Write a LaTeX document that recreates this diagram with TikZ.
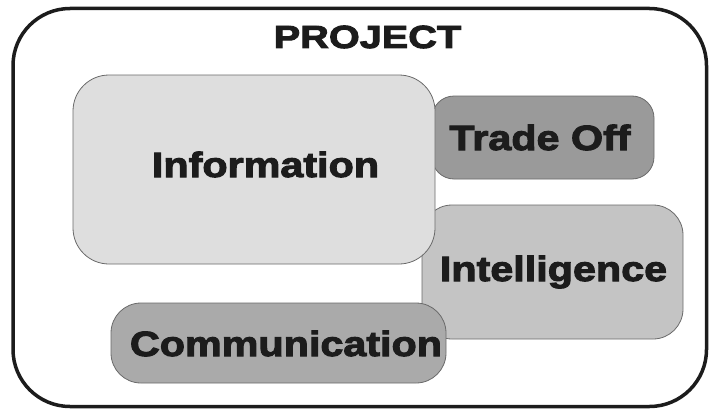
\documentclass[tikz,border=0pt]{standalone}
\usepackage{fontspec}
\newfontfamily\lblfont{Liberation Sans Bold}[FakeStretch=1.18,FakeBold=3]
\newfontfamily\ttlfont{Liberation Sans Bold}[FakeStretch=1.24,FakeBold=3]
\definecolor{txt}{HTML}{1C1C1C}
\definecolor{edge}{HTML}{6A6A6A}
\definecolor{infofill}{HTML}{DEDEDE}
\definecolor{tradefill}{HTML}{9A9A9A}
\definecolor{intelfill}{HTML}{C4C4C4}
\definecolor{commfill}{HTML}{AAAAAA}
\tikzset{
  panel/.style={draw=edge, line width=0.8pt, inner sep=0pt, outer sep=0pt},
  lbl/.style={text=txt, inner sep=0pt, anchor=base, font=\lblfont\fontsize{35}{40}\selectfont},
  ttl/.style={text=txt, inner sep=0pt, anchor=base, font=\ttlfont\fontsize{32}{36}\selectfont},
}
\begin{document}
\begin{tikzpicture}[x=1pt,y=-1pt]
\useasboundingbox (0,0) rectangle (709,412);
% outer frame
\draw[line width=3.5pt, draw=txt, rounded corners=57pt] (13,8.5) rectangle (706.5,406.5);
\node[ttl] (project) at (367.5,48) {PROJECT};
% boxes (back to front)
\draw[panel, fill=tradefill, rounded corners=22pt] (432,96) rectangle (654,179);
\coordinate (tradebox) at (543,137.5);
\draw[panel, fill=intelfill, rounded corners=30pt] (422,205) rectangle (683,339);
\coordinate (intelbox) at (552.5,272);
\draw[panel, fill=infofill, rounded corners=36pt] (73,75) rectangle (435,264);
\coordinate (infobox) at (254,169.5);
\draw[panel, fill=commfill, rounded corners=30pt] (111,303) rectangle (446,383);
\coordinate (commbox) at (278.5,343);
% labels
\node[lbl] (info) at (265.5,177) {Information};
\node[lbl] (trade) at (540,150) {Trade Off};
\node[lbl] (intel) at (553.5,281) {Intelligence};
\node[lbl] (comm) at (286,356) {Communication};
\end{tikzpicture}
\end{document}
